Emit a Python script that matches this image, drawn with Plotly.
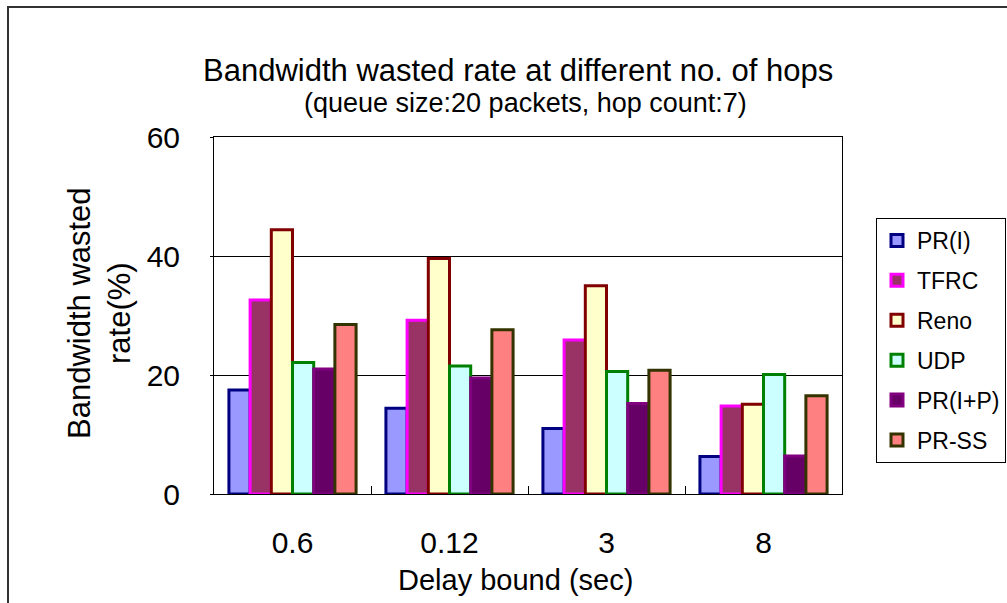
import plotly.graph_objects as go

categories = ["0.6", "0.12", "3", "8"]
series_names = ["PR(I)", "TFRC", "Reno", "UDP", "PR(I+P)", "PR-SS"]
pr_i = [17.5, 14.4, 11.0, 6.3]
tfrc = [32.6, 29.2, 25.9, 14.8]
reno = [44.4, 39.6, 35.0, 15.1]
udp = [22.1, 21.5, 20.6, 20.1]
pr_ip = [21.0, 19.5, 15.2, 6.4]
pr_ss = [28.5, 27.6, 20.8, 16.5]
series_values = [pr_i, tfrc, reno, udp, pr_ip, pr_ss]
y_ticks = [0, 20, 40, 60]

fills = ["#9999FF", "#993366", "#FFFFCC", "#CCFFFF", "#660066", "#FF8080"]
borders = ["#000080", "#FF00FF", "#800000", "#008000", "#800080", "#333300"]

FONT = "Liberation Sans, Arial, sans-serif"

fig = go.Figure()
for i, (name, vals) in enumerate(zip(series_names, series_values)):
    fig.add_trace(go.Bar(
        x=categories, y=vals, name=name, legendgroup=name,
        marker=dict(color=fills[i], line=dict(color=borders[i], width=3)),
    ))

W, H = 1007, 603
L, R, T, B = 214, 165, 137, 109
pw, ph = W - L - R, H - T - B

def px(x):
    return (x - L) / pw

def py(y):
    return (H - B - y) / ph

fig.update_layout(
    width=W, height=H,
    margin=dict(l=L, r=R, t=T, b=B, pad=0, autoexpand=False),
    paper_bgcolor="white", plot_bgcolor="white",
    barmode="group", bargap=0.19, bargroupgap=0,
    font=dict(family=FONT, color="black"),
    showlegend=True,
    legend=dict(
        x=px(876), y=py(218), xanchor="left", yanchor="top",
        bordercolor="black", borderwidth=1, bgcolor="white",
        font=dict(size=23, family=FONT), tracegroupgap=7,
        itemwidth=30,
    ),
    xaxis=dict(
        type="category", showline=True, mirror=True, linecolor="black", linewidth=1,
        ticks="inside", tickson="boundaries", ticklen=8, tickcolor="black",
        tickfont=dict(size=30, family=FONT), ticklabelstandoff=22,
        showgrid=False, automargin=False,
    ),
    yaxis=dict(
        range=[0, 60], tickvals=y_ticks, showline=True, mirror=True,
        linecolor="black", linewidth=1, ticks="outside", ticklen=3, tickcolor="black",
        showgrid=True, gridcolor="black", gridwidth=1,
        tickfont=dict(size=30, family=FONT), ticklabelstandoff=24,
        zeroline=False, automargin=False,
    ),
    annotations=[
        dict(text="Bandwidth wasted rate at different no. of hops", x=px(518), y=py(70),
             xref="paper", yref="paper", showarrow=False, xanchor="center", yanchor="middle",
             font=dict(size=31, family=FONT)),
        dict(text="(queue size:20 packets, hop count:7)", x=px(525), y=py(103),
             xref="paper", yref="paper", showarrow=False, xanchor="center", yanchor="middle",
             font=dict(size=27, family=FONT)),
        dict(text="Bandwidth wasted<br>rate(%)", x=px(99), y=py(313), textangle=-90,
             xref="paper", yref="paper", showarrow=False, xanchor="center", yanchor="middle",
             font=dict(size=31, family=FONT)),
        dict(text="Delay bound (sec)", x=px(515), y=py(580),
             xref="paper", yref="paper", showarrow=False, xanchor="center", yanchor="middle",
             font=dict(size=29, family=FONT)),
    ],
    shapes=[
        dict(type="rect", xref="paper", yref="paper", x0=px(8), x1=px(1020), y0=py(620), y1=py(7),
             line=dict(color="#333333", width=2), fillcolor="rgba(0,0,0,0)", layer="below"),
    ],
)

fig.write_html("out.html")
